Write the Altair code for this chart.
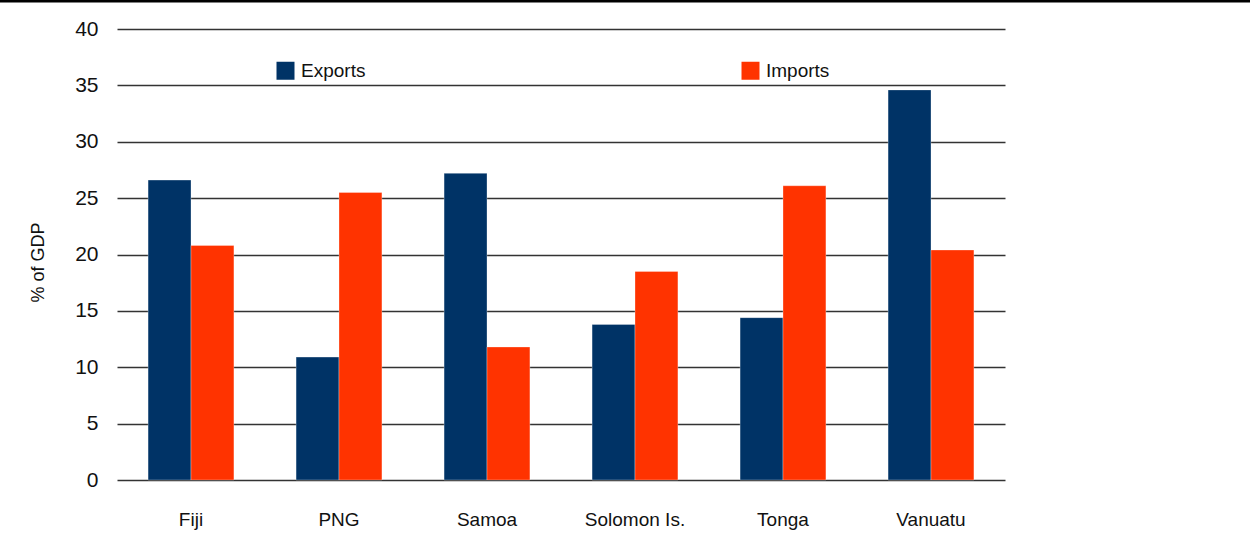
import altair as alt
import pandas as pd

countries = ["Fiji", "PNG", "Samoa", "Solomon Is.", "Tonga", "Vanuatu"]
exports = [26.6, 10.9, 27.2, 13.8, 14.4, 34.6]
imports = [20.8, 25.5, 11.8, 18.5, 26.1, 20.4]
series = ["Exports", "Imports"]
colors = ["#003366", "#FF3300"]
y_ticks = [0, 5, 10, 15, 20, 25, 30, 35, 40]

rows = []
for c, e, i in zip(countries, exports, imports):
    rows.append({"country": c, "series": "Exports", "value": e})
    rows.append({"country": c, "series": "Imports", "value": i})
df = pd.DataFrame(rows)

FONT = "Liberation Sans"

bars = alt.Chart(df).mark_bar(stroke="#ffffff", strokeOpacity=0.3, strokeWidth=1).encode(
    x=alt.X("country:N", sort=countries, title=None,
            scale=alt.Scale(paddingInner=0.42, paddingOuter=0.21),
            axis=alt.Axis(labelAngle=0, labelFontSize=19, labelFont=FONT, labelColor="#111111",
                          labelPadding=30, ticks=False, domain=False)),
    xOffset=alt.XOffset("series:N", sort=series),
    y=alt.Y("value:Q", title="% of GDP",
            scale=alt.Scale(domain=[0, 40], nice=False),
            axis=alt.Axis(values=y_ticks, labelFontSize=21, labelFont=FONT, labelColor="#111111",
                          labelPadding=19, ticks=False, domain=False,
                          grid=True, gridColor="#333333", gridWidth=1.5,
                          titleFont=FONT, titleFontSize=18, titleFontWeight="normal",
                          titleColor="#111111", titleX=-79, titleY=233,
                          titleAngle=-90, titleAlign="center", titleBaseline="middle")),
    color=alt.Color("series:N", sort=series,
                    scale=alt.Scale(domain=series, range=colors),
                    legend=alt.Legend(title=None, orient="none", legendX=159, legendY=32,
                                      direction="horizontal", symbolType="square",
                                      symbolSize=324, symbolStrokeWidth=0, symbolOpacity=1,
                                      labelFont=FONT, labelFontSize=19, labelColor="#111111",
                                      labelOffset=6, columnPadding=375)),
)

top_line = alt.Chart(pd.DataFrame({"v": [0]})).mark_rule(color="#000000", strokeWidth=3).encode(
    x=alt.value(-117), x2=alt.value(1133), y=alt.value(-28)
)

chart = alt.layer(bars, top_line).properties(
    width=888, height=451,
    autosize=alt.AutoSizeParams(type="none"),
    padding={"left": 117, "top": 29, "right": 245, "bottom": 63},
).configure_view(stroke=None).configure_axis(gridOpacity=1)

chart.save("out.html", embed_options={"renderer": "svg", "actions": False})
